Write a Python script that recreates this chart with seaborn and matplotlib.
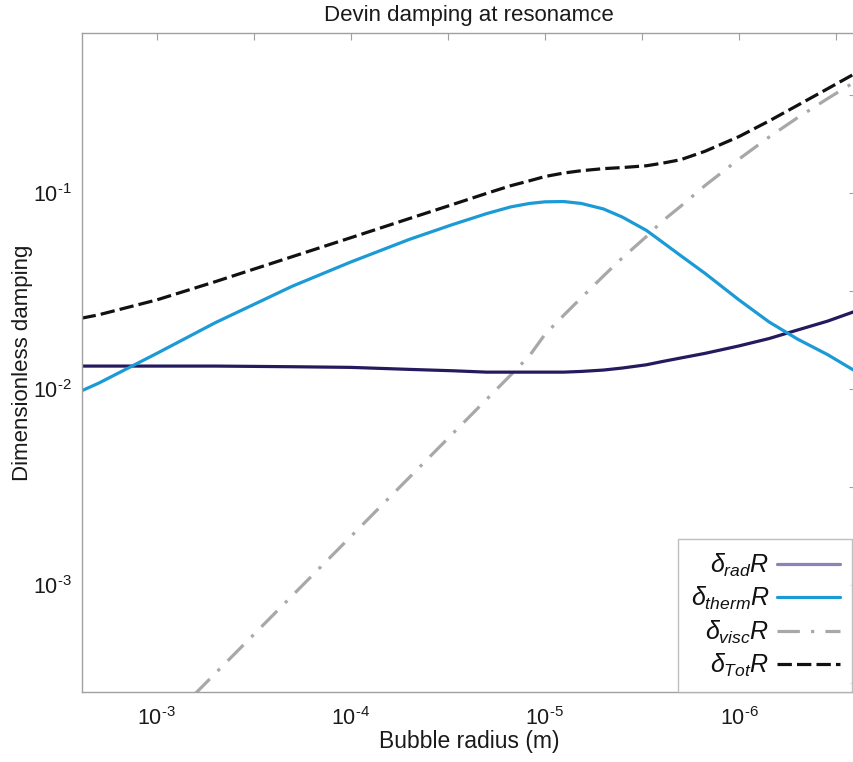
import numpy as np
import pandas as pd
import matplotlib
matplotlib.use("Agg")
import matplotlib.pyplot as plt
from matplotlib.lines import Line2D
import seaborn as sns

# ---- data ----
radius = [2.44e-3, 2e-3, 1e-3, 5e-4, 2e-4, 1e-4, 5e-5, 3e-5, 2e-5, 1.5e-5, 1.2e-5, 1e-5,
          8e-6, 6.5e-6, 5e-6, 4e-6, 3e-6, 2.5e-6, 2e-6, 1.5e-6, 1e-6, 7e-7, 5e-7, 3.5e-7, 2.5e-7]
d_rad = [0.0131, 0.0131, 0.0131, 0.0131, 0.0130, 0.0129, 0.0126, 0.0124, 0.0122, 0.0122,
         0.0122, 0.0122, 0.0122, 0.0123, 0.0125, 0.0128, 0.0133, 0.0138, 0.0144, 0.0152,
         0.0166, 0.0181, 0.0200, 0.0222, 0.0250]
d_therm = [0.0098, 0.0107, 0.0152, 0.0218, 0.0335, 0.0445, 0.0580, 0.0690, 0.0785, 0.0850,
           0.0885, 0.0902, 0.0905, 0.0885, 0.0830, 0.0755, 0.0645, 0.0565, 0.0480, 0.0390,
           0.0285, 0.0220, 0.0180, 0.0150, 0.0123]
d_visc = [0.0000725, 0.0000885, 0.000177, 0.000354, 0.000885, 0.00177, 0.00354, 0.0059,
          0.00885, 0.0118, 0.0148, 0.0190, 0.0238, 0.0292, 0.0377, 0.0466, 0.0600, 0.0715,
          0.0855, 0.109, 0.149, 0.193, 0.242, 0.303, 0.372]
d_tot = [0.0230, 0.0239, 0.0285, 0.0353, 0.0474, 0.0592, 0.0741, 0.0873, 0.0996, 0.1090,
         0.1155, 0.1214, 0.1265, 0.1300, 0.1332, 0.1349, 0.1378, 0.1418, 0.1479, 0.1632,
         0.1941, 0.2331, 0.2800, 0.3402, 0.4093]

series_labels = [r'$\delta_{rad}R$', r'$\delta_{therm}R$', r'$\delta_{visc}R$', r'$\delta_{Tot}R$']
x_tick_values = [1e-3, 10**-3.5, 1e-4, 10**-4.5, 1e-5, 10**-5.5, 1e-6, 10**-6.5]
x_tick_labels = [r'$\mathregular{10^{\text{-}3}}$', '', r'$\mathregular{10^{\text{-}4}}$', '',
                 r'$\mathregular{10^{\text{-}5}}$', '', r'$\mathregular{10^{\text{-}6}}$', '']
y_tick_values = [10**-0.5, 1e-1, 10**-1.5, 1e-2, 10**-2.5, 1e-3, 10**-3.5]
y_tick_labels = ['', r'$\mathregular{10^{\text{-}1}}$', '', r'$\mathregular{10^{\text{-}2}}$', '',
                 r'$\mathregular{10^{\text{-}3}}$', '']

df = pd.DataFrame({"R": radius, "rad": d_rad, "therm": d_therm, "visc": d_visc, "tot": d_tot})

# ---- style ----
sns.set_theme(style="white")
plt.rcParams['font.family'] = ['Liberation Sans', 'DejaVu Sans']
plt.rcParams['mathtext.fontset'] = 'custom'
plt.rcParams['mathtext.rm'] = 'Liberation Sans'
plt.rcParams['mathtext.it'] = 'Liberation Sans:italic'
plt.rcParams['mathtext.bf'] = 'Liberation Sans:bold'

fig = plt.figure(figsize=(8.54, 7.62), dpi=100)
W, H = 854, 762
ax_left, ax_right, ax_top, ax_bottom = 81.7, 856, 33.3, 691.7
ax = fig.add_axes([ax_left / W, 1 - ax_bottom / H, (ax_right - ax_left) / W, (ax_bottom - ax_top) / H])

c_rad = '#241a5e'
c_rad_leg = '#8b84b6'
c_therm = '#1b9ad6'
c_visc = '#a8a8a8'
c_tot = '#111111'
lw = 2.3
visc_dash = (7, 3.5, 1, 3.5)
tot_dash = (4.5, 1.6)

sns.lineplot(data=df, x="R", y="visc", ax=ax, color=c_visc, linewidth=lw,
             dashes=visc_dash, sort=False)
sns.lineplot(data=df, x="R", y="rad", ax=ax, color=c_rad, linewidth=lw, sort=False)
sns.lineplot(data=df, x="R", y="therm", ax=ax, color=c_therm, linewidth=lw, sort=False)
sns.lineplot(data=df, x="R", y="tot", ax=ax, color=c_tot, linewidth=lw,
             dashes=tot_dash, sort=False)

ax.set_xscale('log')
ax.set_yscale('log')
ax.set_xlim(10**-2.613, 10**-6.603)
ax.set_ylim(10**-3.544, 10**-0.185)

ax.xaxis.set_minor_locator(matplotlib.ticker.NullLocator())
ax.yaxis.set_minor_locator(matplotlib.ticker.NullLocator())
ax.set_xticks(x_tick_values)
ax.set_xticklabels(x_tick_labels)
ax.set_yticks(y_tick_values)
ax.set_yticklabels(y_tick_labels)

spine_c = '#a0a0a0'
for s in ax.spines.values():
    s.set_color(spine_c)
    s.set_linewidth(1.0)
ax.tick_params(axis='both', which='both', direction='in', length=5, width=0.8,
               color=spine_c, top=True, right=True, labelsize=15.5, labelcolor='#1a1a1a')
ax.tick_params(axis='x', pad=11)
ax.tick_params(axis='y', pad=7)

ax.set_title('Devin damping at resonamce', fontsize=16, color='#1a1a1a', pad=9)
ax.set_xlabel('Bubble radius (m)', fontsize=16.5, color='#1a1a1a', labelpad=0)
ax.set_ylabel('Dimensionless damping', fontsize=16, color='#1a1a1a', labelpad=0)

handles = [
    Line2D([], [], color=c_rad_leg, linewidth=lw),
    Line2D([], [], color=c_therm, linewidth=lw),
    Line2D([], [], color=c_visc, linewidth=lw, dashes=visc_dash),
    Line2D([], [], color=c_tot, linewidth=lw, dashes=tot_dash),
]
leg = ax.legend(handles, series_labels, loc='lower right',
                bbox_to_anchor=(852 / W, 1 - 691.7 / H), bbox_transform=fig.transFigure,
                fontsize=18, markerfirst=False, frameon=True, fancybox=False,
                handlelength=2.5, handletextpad=0.3, labelspacing=0.25,
                borderpad=0.5, borderaxespad=0.0)
leg.get_frame().set_edgecolor('#b0b0b0')
leg.get_frame().set_linewidth(1.0)
for t in leg.get_texts():
    t.set_color('#111111')

fig.savefig('out.png', dpi=100)
